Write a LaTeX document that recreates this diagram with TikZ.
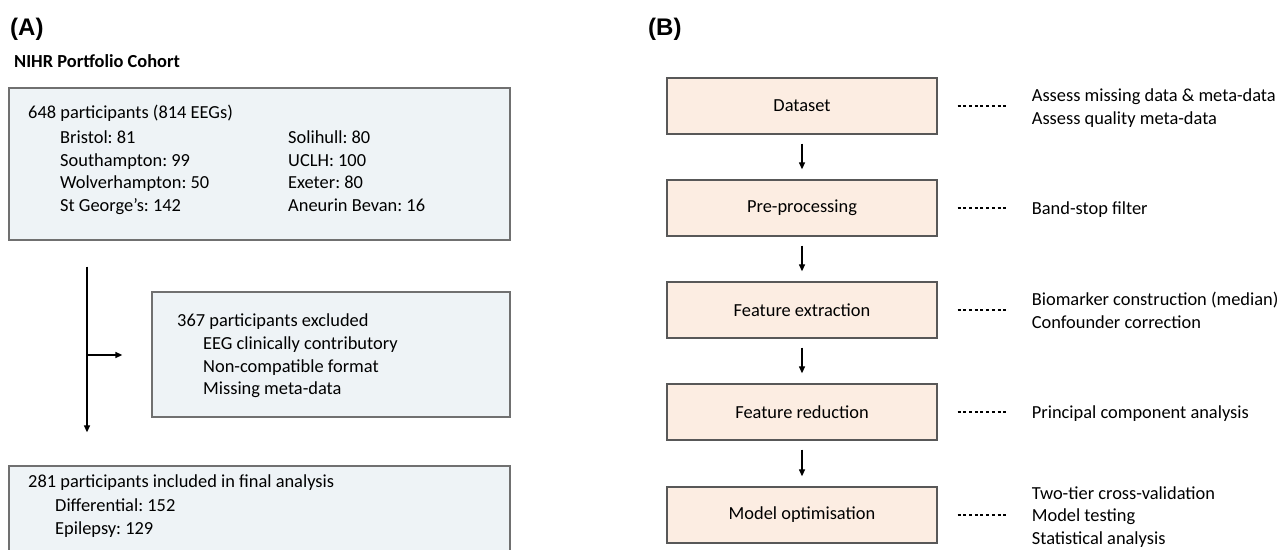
\documentclass[tikz,border=0pt]{standalone}
\usepackage{fontspec}
\setmainfont{Carlito}
\newfontfamily\panelfont{Liberation Sans}
\usetikzlibrary{arrows.meta}
\frenchspacing

\definecolor{cohortfill}{RGB}{238,243,246}
\definecolor{cohortdraw}{RGB}{112,112,112}
\definecolor{stagefill}{RGB}{252,237,226}
\definecolor{stagedraw}{RGB}{88,88,88}

% left-aligned stack of lines whose baseline is the first line
\newcommand{\txtlines}[1]{\begin{tabular}[t]{@{}l@{}}#1\end{tabular}}

\tikzset{
  x=1pt, y=1pt,
  body/.style={font=\fontsize{18.4}{22.5}\selectfont},
  txt/.style={body, inner sep=0pt, anchor=base west},
  cohort/.style={draw=cohortdraw, fill=cohortfill, line width=1.3pt, inner sep=0pt},
  stagebox/.style={draw=stagedraw, fill=stagefill, line width=1.3pt, body,
    minimum width=270pt, minimum height=56pt, inner sep=0pt},
  arr/.style={line width=1.3pt, -{Triangle[length=7pt,width=6pt]}},
  dotl/.style={line width=1.2pt, dash pattern=on 3pt off 2.7pt},
  panel/.style={font=\panelfont\bfseries\fontsize{24}{28}\selectfont, inner sep=0pt, anchor=base west},
}

\begin{document}
\begin{tikzpicture}
\useasboundingbox (0,0) rectangle (1280,549);
\clip (0,0) rectangle (1280,549);

% ---------- panel A: cohort flow ----------
\node[panel] (pa) at (10,513) {(A)};
\node[txt, font=\fontsize{18.4}{22.5}\selectfont\bfseries] (cohortname) at (14,481) {NIHR Portfolio Cohort};

\node[cohort, minimum width=501pt, minimum height=152pt] (all) at (259.5,385) {};
\node[txt] (allhead) at (28,430) {648 participants (814 EEGs)};
\node[txt] (sitesa) at (60,405) {\txtlines{Bristol: 81\\ Southampton: 99\\ Wolverhampton: 50\\ St George’s: 142}};
\node[txt] (sitesb) at (288,405) {\txtlines{Solihull: 80\\ UCLH: 100\\ Exeter: 80\\ Aneurin Bevan: 16}};

\node[cohort, minimum width=358pt, minimum height=125pt] (excl) at (331,194.5) {};
\node[txt] (exclhead) at (177,222) {367 participants excluded};
\node[txt] (exclwhy) at (203,199) {\txtlines{EEG clinically contributory\\ Non-compatible format\\ Missing meta-data}};

\node[cohort, minimum width=501pt, minimum height=114pt] (incl) at (259.5,26) {};
\node[txt] (inclhead) at (28,61) {281 participants included in final analysis};
\node[txt] (inclsplit) at (55,37) {\txtlines{Differential: 152\\ Epilepsy: 129}};

\coordinate (split) at (87,194);
\draw[arr] ([yshift=-26pt]all.south -| split) -- ([yshift=33pt]incl.north -| split);
\draw[arr] (split) -- ([xshift=-29pt]excl.west |- split);

% ---------- panel B: analysis pipeline ----------
\node[panel] (pb) at (648,513) {(B)};

\node[stagebox] (s1) at (802,443) {Dataset};
\node[stagebox] (s2) at (802,341) {Pre-processing};
\node[stagebox] (s3) at (802,239) {Feature extraction};
\node[stagebox] (s4) at (802,137) {Feature reduction};
\node[stagebox] (s5) at (802,34) {Model optimisation};

\foreach \a/\b in {s1/s2,s2/s3,s3/s4,s4/s5}
  \draw[arr, shorten <=9pt, shorten >=10pt] (\a.south) -- (\b.north);

\node[txt] (n1) at ([xshift=94pt,yshift=4.3pt]s1.east) {\txtlines{Assess missing data \& meta-data\\ Assess quality meta-data}};
\node[txt] (n2) at ([xshift=94pt,yshift=-7pt]s2.east) {Band-stop filter};
\node[txt] (n3) at ([xshift=94pt,yshift=4.3pt]s3.east) {\txtlines{Biomarker construction (median)\\ Confounder correction}};
\node[txt] (n4) at ([xshift=94pt,yshift=-7pt]s4.east) {Principal component analysis};
\node[txt] (n5) at ([xshift=94pt,yshift=15.5pt]s5.east) {\txtlines{Two-tier cross-validation\\ Model testing\\ Statistical analysis}};

\foreach \s/\n in {s1/n1,s2/n2,s3/n3,s4/n4,s5/n5}
  \draw[dotl] ([xshift=20pt]\s.east) -- ([xshift=-23pt]\s.east -| \n.west);
\end{tikzpicture}
\end{document}
